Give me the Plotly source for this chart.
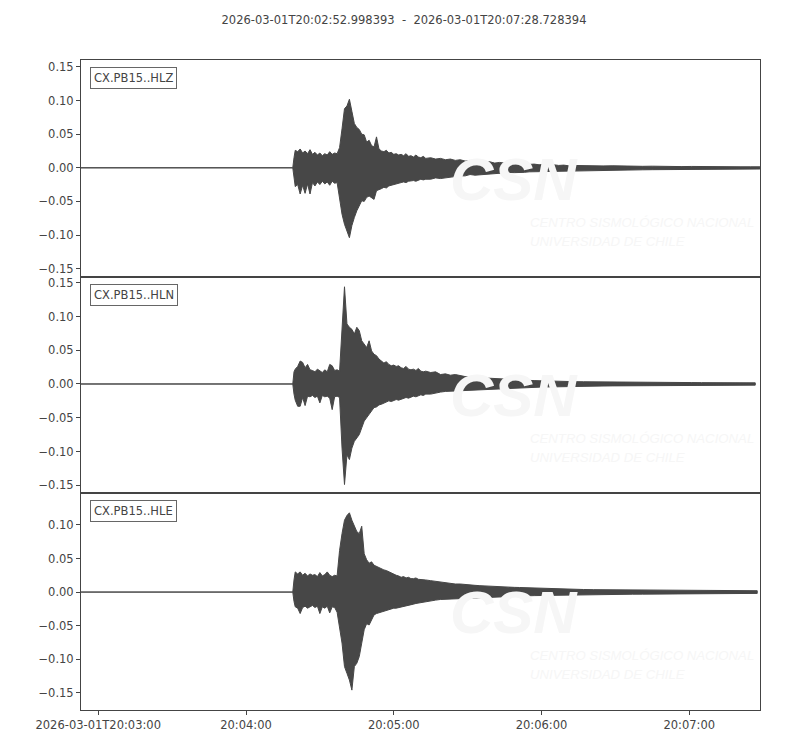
import pandas as pd
import plotly.graph_objects as go
from plotly.subplots import make_subplots

start = pd.Timestamp("2026-03-01T20:02:52.998393")
end = pd.Timestamp("2026-03-01T20:07:28.728394")

# sample times, seconds after start (envelope)
secs = [0, 86.0, 86.5,
        87, 88, 89, 90, 91, 92, 93, 94, 95, 96, 97, 98, 99, 100, 101, 102, 103, 104,
        105, 106, 107, 108, 109, 110, 111, 112, 113, 114, 115, 116, 117, 118, 119, 120,
        121, 122, 123, 124, 125, 126, 127, 128, 129, 130, 131, 132, 133, 134, 135, 136,
        137, 138, 139, 140,
        142, 144, 146, 148, 150, 152, 154, 156, 158, 160, 162, 164, 166, 168, 170,
        172, 174, 176, 178, 180, 182, 184, 186, 188, 190, 192, 194, 196, 198, 200,
        204, 208, 212, 216, 220, 224, 228, 232, 236, 240, 244, 248, 252, 256, 260,
        264, 268, 272]

# CX.PB15..HLZ
hlz_up = [0, 0, 0.015,
          0.026, 0.024, 0.028, 0.022, 0.025, 0.021, 0.027, 0.020, 0.023, 0.019, 0.022, 0.018, 0.021, 0.019, 0.024, 0.020, 0.022, 0.021,
          0.030, 0.058, 0.088, 0.092, 0.102, 0.084, 0.066, 0.060, 0.057, 0.050, 0.049, 0.038, 0.041, 0.033, 0.031, 0.046,
          0.028, 0.025, 0.024, 0.026, 0.022, 0.023, 0.020, 0.021, 0.019, 0.020, 0.018, 0.021, 0.017, 0.018, 0.016, 0.019,
          0.016, 0.015, 0.017, 0.014,
          0.015, 0.013, 0.014, 0.012, 0.013, 0.011, 0.012, 0.010, 0.011, 0.009, 0.010, 0.008, 0.009, 0.007, 0.008,
          0.007, 0.006, 0.0065, 0.0055, 0.006, 0.005, 0.0055, 0.0045, 0.005, 0.004, 0.0045, 0.0035, 0.004, 0.003, 0.0035,
          0.003, 0.0032, 0.0028, 0.003, 0.0025, 0.0027, 0.0022, 0.0024, 0.002, 0.0022, 0.0018, 0.002, 0.0017, 0.0018, 0.0016,
          0.0017, 0.0015, 0.0015]
hlz_lo = [0, 0, -0.012,
          -0.028, -0.025, -0.039, -0.026, -0.038, -0.024, -0.039, -0.022, -0.027, -0.021, -0.025, -0.020, -0.024, -0.021, -0.026, -0.020, -0.023, -0.022,
          -0.045, -0.069, -0.084, -0.094, -0.104, -0.086, -0.074, -0.064, -0.056, -0.049, -0.050, -0.044, -0.042, -0.045, -0.047, -0.034,
          -0.033, -0.031, -0.029, -0.030, -0.027, -0.026, -0.025, -0.024, -0.023, -0.022, -0.021, -0.022, -0.020, -0.019, -0.019, -0.020,
          -0.018, -0.017, -0.018, -0.017,
          -0.017, -0.015, -0.016, -0.014, -0.014, -0.013, -0.012, -0.012, -0.010, -0.011, -0.010, -0.009, -0.0095, -0.008, -0.0085,
          -0.0075, -0.007, -0.0072, -0.0065, -0.0068, -0.006, -0.0062, -0.0055, -0.0058, -0.005, -0.0052, -0.0046, -0.0048, -0.0042, -0.0044,
          -0.004, -0.0038, -0.0035, -0.0036, -0.0032, -0.0033, -0.003, -0.0028, -0.0027, -0.0026, -0.0024, -0.0025, -0.0022, -0.0022, -0.002,
          -0.002, -0.0018, -0.0018]

# CX.PB15..HLN
hln_up = [0, 0, 0.018,
          0.022, 0.026, 0.034, 0.032, 0.024, 0.029, 0.021, 0.020, 0.018, 0.022, 0.019, 0.017, 0.021, 0.018, 0.029, 0.027, 0.020, 0.021,
          0.019, 0.089, 0.144, 0.089, 0.084, 0.081, 0.074, 0.084, 0.079, 0.064, 0.059, 0.054, 0.064, 0.049, 0.044, 0.042,
          0.037, 0.034, 0.031, 0.033, 0.029, 0.027, 0.028, 0.026, 0.027, 0.024, 0.023, 0.026, 0.022, 0.021, 0.022, 0.020,
          0.023, 0.019, 0.018, 0.019,
          0.017, 0.018, 0.014, 0.015, 0.013, 0.014, 0.012, 0.011, 0.011, 0.010, 0.0095, 0.009, 0.0085, 0.008, 0.0075,
          0.007, 0.0068, 0.0062, 0.006, 0.0055, 0.0052, 0.005, 0.0048, 0.0045, 0.0043, 0.004, 0.0038, 0.0037, 0.0036, 0.0035,
          0.0033, 0.0031, 0.003, 0.0028, 0.0027, 0.0026, 0.0025, 0.0024, 0.0023, 0.0022, 0.0022, 0.0021, 0.002, 0.002, 0.0019,
          0.0018, 0.0018, 0.0017]
hln_lo = [0, 0, -0.015,
          -0.024, -0.033, -0.033, -0.020, -0.032, -0.018, -0.019, -0.017, -0.020, -0.018, -0.028, -0.017, -0.019, -0.018, -0.021, -0.038, -0.019, -0.018,
          -0.020, -0.095, -0.149, -0.105, -0.112, -0.095, -0.085, -0.080, -0.075, -0.065, -0.055, -0.050, -0.045, -0.040, -0.035, -0.034,
          -0.031, -0.030, -0.028, -0.027, -0.025, -0.026, -0.024, -0.023, -0.024, -0.022, -0.021, -0.020, -0.021, -0.019, -0.018, -0.019,
          -0.017, -0.016, -0.017, -0.015,
          -0.015, -0.014, -0.012, -0.011, -0.011, -0.010, -0.010, -0.0095, -0.009, -0.0088, -0.0085, -0.008, -0.008, -0.0075, -0.007,
          -0.0068, -0.0065, -0.006, -0.0058, -0.0055, -0.0052, -0.005, -0.0047, -0.0045, -0.0043, -0.004, -0.0039, -0.0037, -0.0036, -0.0035,
          -0.0033, -0.0031, -0.003, -0.0028, -0.0027, -0.0026, -0.0025, -0.0024, -0.0023, -0.0022, -0.0022, -0.0021, -0.002, -0.002, -0.0019,
          -0.0018, -0.0018, -0.0017]

# CX.PB15..HLE
hle_up = [0, 0, 0.018,
          0.030, 0.027, 0.030, 0.025, 0.028, 0.024, 0.027, 0.025, 0.026, 0.023, 0.029, 0.024, 0.026, 0.030, 0.025, 0.023, 0.025, 0.024,
          0.062, 0.087, 0.107, 0.114, 0.118, 0.107, 0.097, 0.090, 0.087, 0.098, 0.057, 0.048, 0.043, 0.045, 0.040, 0.038,
          0.036, 0.035, 0.033, 0.032, 0.030, 0.029, 0.027, 0.025, 0.024, 0.022, 0.023, 0.021, 0.022, 0.020, 0.020, 0.021,
          0.019, 0.019, 0.018, 0.018,
          0.017, 0.016, 0.014, 0.013, 0.013, 0.012, 0.012, 0.011, 0.010, 0.010, 0.0095, 0.009, 0.0088, 0.0085, 0.008,
          0.0075, 0.0072, 0.007, 0.0068, 0.0065, 0.006, 0.0058, 0.0055, 0.0052, 0.005, 0.0047, 0.0045, 0.0043, 0.0042, 0.004,
          0.0038, 0.0036, 0.0035, 0.0033, 0.0032, 0.0031, 0.003, 0.003, 0.0029, 0.0028, 0.0027, 0.0026, 0.0025, 0.0024, 0.0023,
          0.0022, 0.0021, 0.002]
hle_lo = [0, 0, -0.014,
          -0.022, -0.024, -0.032, -0.023, -0.021, -0.024, -0.022, -0.020, -0.023, -0.021, -0.032, -0.022, -0.024, -0.021, -0.031, -0.022, -0.023, -0.030,
          -0.050, -0.076, -0.111, -0.121, -0.131, -0.146, -0.111, -0.106, -0.096, -0.076, -0.056, -0.047, -0.049, -0.042, -0.034, -0.032,
          -0.030, -0.029, -0.028, -0.027, -0.027, -0.025, -0.024, -0.024, -0.023, -0.022, -0.021, -0.020, -0.020, -0.019, -0.018, -0.017,
          -0.016, -0.016, -0.015, -0.014,
          -0.013, -0.012, -0.011, -0.011, -0.010, -0.0098, -0.0095, -0.009, -0.0088, -0.0085, -0.0082, -0.008, -0.0075, -0.0072, -0.007,
          -0.0068, -0.0065, -0.0063, -0.006, -0.0058, -0.0055, -0.0053, -0.005, -0.0049, -0.0047, -0.0046, -0.0045, -0.0044, -0.0043, -0.0042,
          -0.004, -0.0038, -0.0036, -0.0035, -0.0033, -0.0032, -0.0031, -0.003, -0.0029, -0.0028, -0.0027, -0.0026, -0.0025, -0.0024, -0.0023,
          -0.0022, -0.0021, -0.002]

labels = ["CX.PB15..HLZ", "CX.PB15..HLN", "CX.PB15..HLE"]
end_secs = [275.7, 273.8, 274.6]
yranges = [[-0.162, 0.1604], [-0.162, 0.159], [-0.1756, 0.147]]
yticks = [[-0.15, -0.10, -0.05, 0.0, 0.05, 0.10, 0.15],
          [-0.15, -0.10, -0.05, 0.0, 0.05, 0.10, 0.15],
          [-0.15, -0.10, -0.05, 0.0, 0.05, 0.10]]
xtick_times = ["2026-03-01 20:03:00", "2026-03-01 20:04:00", "2026-03-01 20:05:00",
               "2026-03-01 20:06:00", "2026-03-01 20:07:00"]
xtick_text = ["2026-03-01T20:03:00", "20:04:00", "20:05:00", "20:06:00", "20:07:00"]

ink = "#474747"
axc = "#444444"
wm = "#f6f6f6"
font = "DejaVu Sans"

fig = make_subplots(rows=3, cols=1, shared_xaxes=True, vertical_spacing=0)

for i, (up, lo) in enumerate([(hlz_up, hlz_lo), (hln_up, hln_lo), (hle_up, hle_lo)]):
    t = secs + [end_secs[i]]
    u = up + [up[-1]]
    l = lo + [lo[-1]]
    tt = list(start + pd.to_timedelta(t, unit="s"))
    x = tt + tt[::-1]
    y = u + l[::-1]

    ax = "" if i == 0 else str(i + 1)
    # faint CSN watermark (drawn first, under the trace)
    fig.add_annotation(text="<b><i>CSN</i></b>", xref="x%s domain" % ax, yref="y%s domain" % ax,
                       x=0.638, y=0.45, showarrow=False,
                       font=dict(family="Liberation Sans", size=60, color=wm))
    fig.add_annotation(text="<i>CENTRO SISMOLÓGICO NACIONAL</i>", xref="x%s domain" % ax,
                       yref="y%s domain" % ax, x=0.658, y=0.207, xanchor="left",
                       showarrow=False,
                       font=dict(family="Liberation Sans", size=13.2, color=wm))
    fig.add_annotation(text="<i>UNIVERSIDAD DE CHILE</i>", xref="x%s domain" % ax,
                       yref="y%s domain" % ax, x=0.658, y=0.12, xanchor="left",
                       showarrow=False,
                       font=dict(family="Liberation Sans", size=13.2, color=wm))

    fig.add_trace(go.Scatter(x=x, y=y, mode="lines", fill="toself",
                             fillcolor=ink, line=dict(color=ink, width=1),
                             hoverinfo="skip", showlegend=False),
                  row=i + 1, col=1)
    fig.update_yaxes(range=yranges[i], tickvals=yticks[i], tickformat=".2f",
                     row=i + 1, col=1)

    fig.add_annotation(text=labels[i], xref="x%s domain" % ax, yref="y%s domain" % ax,
                       x=0.013, y=0.968, xanchor="left", yanchor="top", showarrow=False,
                       font=dict(family=font, size=11.5, color=axc),
                       bgcolor="white", bordercolor="#666666", borderwidth=1, borderpad=3)

fig.update_yaxes(showline=True, mirror=True, linecolor=axc, linewidth=1,
                 ticks="outside", ticklen=4, tickcolor=axc, showgrid=False,
                 zeroline=False, tickfont=dict(family=font, size=11.5, color=axc))
fig.update_xaxes(type="date", range=[start, end], showline=True, mirror=True,
                 linecolor=axc, linewidth=1, showgrid=False, zeroline=False,
                 showticklabels=False, ticks="")
fig.update_xaxes(row=3, col=1, showticklabels=True, ticks="outside", ticklen=4,
                 tickcolor=axc, tickvals=xtick_times, ticktext=xtick_text,
                 tickfont=dict(family=font, size=11.5, color=axc))

fig.update_layout(
    width=792, height=742,
    margin=dict(l=73, r=40, t=52, b=40),
    paper_bgcolor="white", plot_bgcolor="white",
    title=dict(text="2026-03-01T20:02:52.998393  -  2026-03-01T20:07:28.728394",
               x=0.5, xref="container", y=1 - 12 / 742, yref="container",
               xanchor="center", yanchor="middle",
               font=dict(family=font, size=11.5, color=axc)),
    hovermode=False,
)

fig.write_html("out.html")
